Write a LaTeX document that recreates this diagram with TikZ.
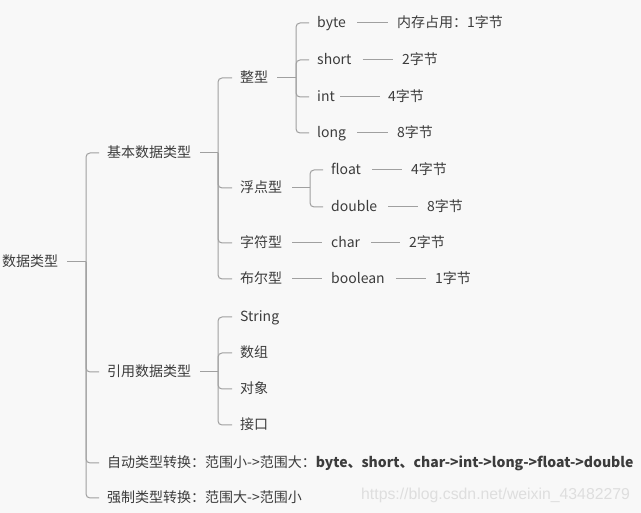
\documentclass[tikz,border=0pt]{standalone}
\usepackage{fontspec}
\setmainfont{Noto Sans CJK SC}
\newfontfamily\markfont{Liberation Sans}
\usepackage{tikz}
\definecolor{canvas}{RGB}{248,248,248}
\definecolor{ink}{RGB}{60,60,60}
\definecolor{branch}{RGB}{160,160,160}
\definecolor{stamp}{RGB}{222,222,222}
\usetikzlibrary{calc}

\begin{document}
\begin{tikzpicture}[
    x=1pt, y=-1pt,
    topic/.style={anchor=west, inner sep=0pt, text=ink, text height=11pt, text depth=2pt,
                  font=\fontsize{14}{16}\selectfont},
    link/.style={draw=branch, line width=1pt},
    fork/.style={link, rounded corners=4pt, shorten >=8pt},
    stem/.style={link, shorten <=9pt},
    leaf/.style={link, shorten <=11pt, shorten >=9pt}
]
    \fill[canvas] (0,0) rectangle (641,513);
    \useasboundingbox (0,0) rectangle (641,513);

    \node[topic] (root) at (2,262) {数据类型};

    \node[topic] (basic) at (107,153) {基本数据类型};
    \node[topic] (ref)   at (107,372) {引用数据类型};
    \node[topic] (auto)  at (107,463) {自动类型转换：范围小->范围大：\textbf{byte、short、char->int->long->float->double}};
    \node[topic] (force) at (107,498) {强制类型转换：范围大->范围小};

    \node[topic] (whole) at (240,78)  {整型};
    \node[topic] (real)  at (240,188) {浮点型};
    \node[topic] (chr)   at (240,243) {字符型};
    \node[topic] (bool)  at (240,279) {布尔型};

    \node[topic] (byte)  at (317,23)  {byte};
    \node[topic] (short) at (317,60)  {short};
    \node[topic] (int)   at (317,97)  {int};
    \node[topic] (long)  at (317,133) {long};
    \node[topic] (byteb)  at (397,23)  {内存占用：1字节};
    \node[topic] (shortb) at (402,60)  {2字节};
    \node[topic] (intb)   at (388,97)  {4字节};
    \node[topic] (longb)  at (397,133) {8字节};

    \node[topic] (float)   at (331,170) {float};
    \node[topic] (double)  at (331,207) {double};
    \node[topic] (floatb)  at (411,170) {4字节};
    \node[topic] (doubleb) at (427,207) {8字节};

    \node[topic] (char)     at (331,243) {char};
    \node[topic] (charb)    at (409,243) {2字节};
    \node[topic] (boolean)  at (331,279) {boolean};
    \node[topic] (booleanb) at (435,279) {1字节};

    \node[topic] (string) at (240,317) {String};
    \node[topic] (array)  at (240,353) {数组};
    \node[topic] (object) at (240,389) {对象};
    \node[topic] (iface)  at (240,425) {接口};

    \node[anchor=west, inner sep=0pt, text=stamp, font=\markfont\fontsize{15.8}{18}\selectfont]
        (mark) at (361,495) {https://blog.csdn.net/weixin\_43482279};

    \coordinate (j0) at (86,262);
    \coordinate (j1) at (218,153);
    \coordinate (j2) at (296,78);
    \coordinate (j3) at (310,188);
    \coordinate (j4) at (218,372);

    \draw[stem] (root.east) -- (j0);
    \foreach \n in {basic,ref,auto,force}
        \draw[fork] (j0) |- (\n.west);

    \draw[stem] (basic.east) -- (j1);
    \foreach \n in {whole,real,chr,bool}
        \draw[fork] (j1) |- (\n.west);

    \draw[stem] (whole.east) -- (j2);
    \foreach \n in {byte,short,int,long}
        \draw[fork] (j2) |- (\n.west);

    \draw[stem, shorten <=10pt] (real.east) -- (j3);
    \foreach \n in {float,double}
        \draw[fork] (j3) |- (\n.west);

    \draw[stem] (ref.east) -- (j4);
    \foreach \n in {string,array,object,iface}
        \draw[fork] (j4) |- (\n.west);

    \draw[leaf] (byte) -- (byteb);
    \draw[leaf] (short) -- (shortb);
    \draw[leaf, shorten <=5pt, shorten >=8pt] (int) -- (intb);
    \draw[leaf] (long) -- (longb);
    \draw[leaf] (float) -- (floatb);
    \draw[leaf] (double) -- (doubleb);
    \draw[leaf, shorten <=10pt] (chr) -- (char);
    \draw[leaf] (char) -- (charb);
    \draw[leaf, shorten <=10pt] (bool) -- (boolean);
    \draw[leaf] (boolean) -- (booleanb);
\end{tikzpicture}
\end{document}
